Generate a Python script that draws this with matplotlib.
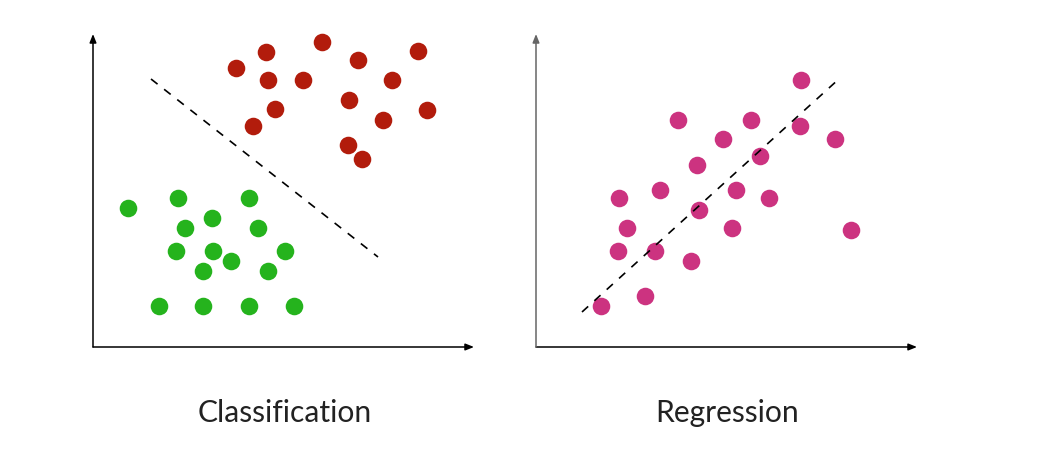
import matplotlib
matplotlib.use("Agg")
import matplotlib.pyplot as plt

# left panel: two classes and a separating boundary
red_x = [229, 173, 325, 143, 265, 175, 210, 299, 256, 182, 334, 290, 160, 255, 269]
red_y = [305, 295, 296, 279, 287, 267, 267, 267, 247, 238, 237, 227, 221, 202, 188]
green_x = [35, 85, 156, 119, 92, 165, 83, 120, 192, 138, 110, 175, 66, 110, 156, 201]
green_y = [139, 149, 149, 129, 119, 119, 96, 96, 96, 86, 76, 76, 41, 41, 41, 41]
boundary_x = [58, 285]
boundary_y = [268, 90]

# right panel: points and fitted line
pink_x = [265, 142, 215, 264, 187, 299, 224, 161, 124, 83, 200, 233, 163,
          91, 196, 315, 82, 119, 155, 109, 65]
pink_y = [267, 227, 227, 221, 208, 208, 191, 182, 157, 149, 157, 149, 137,
          119, 119, 117, 96, 96, 86, 51, 41]
trend_x = [46, 304]
trend_y = [35, 269]

titles = ["Classification", "Regression"]

W, H = 1055, 449
fig = plt.figure(figsize=(W / 100, H / 100), dpi=100)
fig.patch.set_facecolor("white")


def make_panel(x0, y_color):
    ax = fig.add_axes([x0 / W, (H - 347) / H, 380 / W, 312 / H])
    ax.set_xlim(0, 380)
    ax.set_ylim(0, 312)
    ax.axis("off")
    ax.annotate("", xy=(381, 0), xytext=(0, 0),
                arrowprops=dict(arrowstyle="-|>,head_length=0.5,head_width=0.2",
                                color="black", lw=1.1, shrinkA=0, shrinkB=0),
                annotation_clip=False)
    ax.annotate("", xy=(0, 313), xytext=(0, 0),
                arrowprops=dict(arrowstyle="-|>,head_length=0.5,head_width=0.2",
                                color=y_color, lw=1.1, shrinkA=0, shrinkB=0),
                annotation_clip=False)
    return ax


ax1 = make_panel(93, "black")
ax1.scatter(red_x, red_y, s=160, color="#b21c0c", linewidths=0, clip_on=False)
ax1.scatter(green_x, green_y, s=160, color="#25b31d", linewidths=0, clip_on=False)
ax1.plot(boundary_x, boundary_y, color="black", lw=1.2, dashes=(5, 5))

ax2 = make_panel(536, "#666666")
ax2.scatter(pink_x, pink_y, s=160, color="#cc3380", linewidths=0, clip_on=False)
ax2.plot(trend_x, trend_y, color="black", lw=1.2, dashes=(5, 5))

for cx, t in zip([285, 727], titles):
    fig.text(cx / W, (H - 413) / H, t, ha="center", va="center",
             fontsize=21.6, family="Lato", color="#222222")

fig.savefig("out.png", dpi=100, facecolor="white")
